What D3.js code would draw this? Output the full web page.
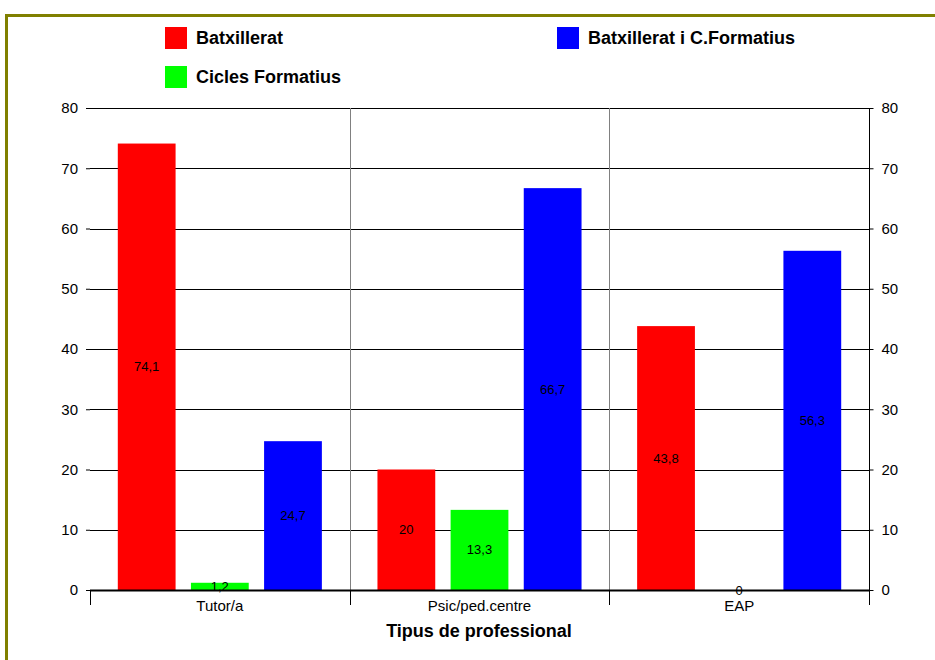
<!DOCTYPE html>
<html>
<head>
<meta charset="utf-8">
<script src="https://cdn.jsdelivr.net/npm/d3@7"></script>
<style>
  html, body { margin: 0; padding: 0; background: #fff; }
  svg { display: block; font-family: "Liberation Sans", Arial, sans-serif; }
</style>
</head>
<body>
<svg id="chart" width="935" height="660"></svg>
<script>
// Categories and series
const categories = ["Tutor/a", "Psic/ped.centre", "EAP"];
const seriesNames = ["Batxillerat", "Cicles Formatius", "Batxillerat i C.Formatius"];
const seriesColors = ["#ff0000", "#00ff00", "#0000ff"];
const batxillerat = [74.1, 20, 43.8];
const ciclesFormatius = [1.2, 13.3, 0];
const batxCF = [24.7, 66.7, 56.3];
const yTicks = [0, 10, 20, 30, 40, 50, 60, 70, 80];
const xTitle = "Tipus de professional";

const seriesValues = [batxillerat, ciclesFormatius, batxCF];
const fmt = v => String(v).replace(".", ",");

const svg = d3.select("#chart");

// Outer frame (top and left edges)
svg.append("path")
  .attr("d", "M6.5,660 V15.5 H935")
  .attr("fill", "none")
  .attr("stroke", "#808000")
  .attr("stroke-width", 3);

const plot = { left: 90, right: 869, top: 108, bottom: 590 };

const x0 = d3.scaleBand().domain(categories).range([plot.left, plot.right]);
const x1 = d3.scaleBand().domain(seriesNames).range([0, x0.bandwidth()])
  .paddingInner(0.21).paddingOuter(0.38);
const y = d3.scaleLinear().domain([0, 80]).range([plot.bottom, plot.top]);

// Horizontal gridlines
svg.append("g").selectAll("line").data(yTicks.slice(1)).join("line")
  .attr("x1", plot.left).attr("x2", plot.right)
  .attr("y1", d => Math.round(y(d)) + 0.5).attr("y2", d => Math.round(y(d)) + 0.5)
  .attr("stroke", "#000").attr("stroke-width", 1);

// Category separators
svg.append("g").selectAll("line").data(categories.slice(1)).join("line")
  .attr("x1", d => Math.round(x0(d)) + 0.5).attr("x2", d => Math.round(x0(d)) + 0.5)
  .attr("y1", plot.top).attr("y2", plot.bottom)
  .attr("stroke", "#808080").attr("stroke-width", 1);

// Bars
const groups = svg.append("g").selectAll("g").data(categories).join("g")
  .attr("transform", d => `translate(${x0(d)},0)`);

groups.selectAll("rect")
  .data((c, i) => seriesNames.map((s, k) => ({ s, k, v: seriesValues[k][i] })))
  .join("rect")
  .attr("x", d => x1(d.s))
  .attr("width", x1.bandwidth())
  .attr("y", d => y(d.v))
  .attr("height", d => y(0) - y(d.v))
  .attr("fill", d => seriesColors[d.k]);

// Value labels at bar mid-height
groups.selectAll("text")
  .data((c, i) => seriesNames.map((s, k) => ({ s, k, v: seriesValues[k][i] })))
  .join("text")
  .attr("x", d => x1(d.s) + x1.bandwidth() / 2)
  .attr("y", d => y(d.v / 2))
  .attr("dy", "0.35em")
  .attr("text-anchor", "middle")
  .attr("font-size", 13)
  .attr("fill", "#000")
  .text(d => fmt(d.v));

// Left axis (ticks and labels only)
const leftAxis = svg.append("g")
  .attr("transform", `translate(${plot.left},0)`)
  .call(d3.axisLeft(y).tickValues(yTicks).tickSize(4).tickPadding(8));
leftAxis.select(".domain").remove();

// Right axis
const rightAxis = svg.append("g")
  .attr("transform", `translate(${plot.right + 0.5},0)`)
  .call(d3.axisRight(y).tickValues(yTicks).tickSize(4).tickPadding(8));
rightAxis.select(".domain").attr("d", `M0,${plot.top}V${plot.bottom}`).attr("stroke", "#000");

[leftAxis, rightAxis].forEach(a => {
  a.selectAll("text").attr("font-size", 15).attr("fill", "#000")
    .attr("font-family", "'Liberation Sans', Arial, sans-serif");
  a.selectAll(".tick line").attr("stroke", "#000");
});

// Bottom axis: baseline, category boundary ticks, labels
svg.append("line")
  .attr("x1", plot.left).attr("x2", plot.right)
  .attr("y1", plot.bottom + 0.5).attr("y2", plot.bottom + 0.5)
  .attr("stroke", "#000").attr("stroke-width", 2);

const bounds = categories.map(c => x0(c)).concat([plot.right]);
svg.append("g").selectAll("line").data(bounds).join("line")
  .attr("x1", d => Math.round(d) + 0.5).attr("x2", d => Math.round(d) + 0.5)
  .attr("y1", plot.bottom).attr("y2", plot.bottom + 15)
  .attr("stroke", "#000");

svg.append("g").selectAll("text").data(categories).join("text")
  .attr("x", d => x0(d) + x0.bandwidth() / 2)
  .attr("y", plot.bottom + 16)
  .attr("dy", "0.35em")
  .attr("text-anchor", "middle")
  .attr("font-size", 15)
  .text(d => d);

svg.append("text")
  .attr("x", 479)
  .attr("y", 631)
  .attr("dy", "0.35em")
  .attr("text-anchor", "middle")
  .attr("font-size", 18)
  .attr("font-weight", "bold")
  .text(xTitle);

// Legend
const legendPos = [[165, 27], [165, 66], [557, 27]];
const legend = svg.append("g").selectAll("g").data(seriesNames).join("g")
  .attr("transform", (d, i) => `translate(${legendPos[i][0]},${legendPos[i][1]})`);
legend.append("rect")
  .attr("width", 22).attr("height", 22)
  .attr("fill", (d, i) => seriesColors[i]);
legend.append("text")
  .attr("x", 31).attr("y", 11).attr("dy", "0.35em")
  .attr("font-size", 18).attr("font-weight", "bold")
  .text(d => d);
</script>
</body>
</html>
